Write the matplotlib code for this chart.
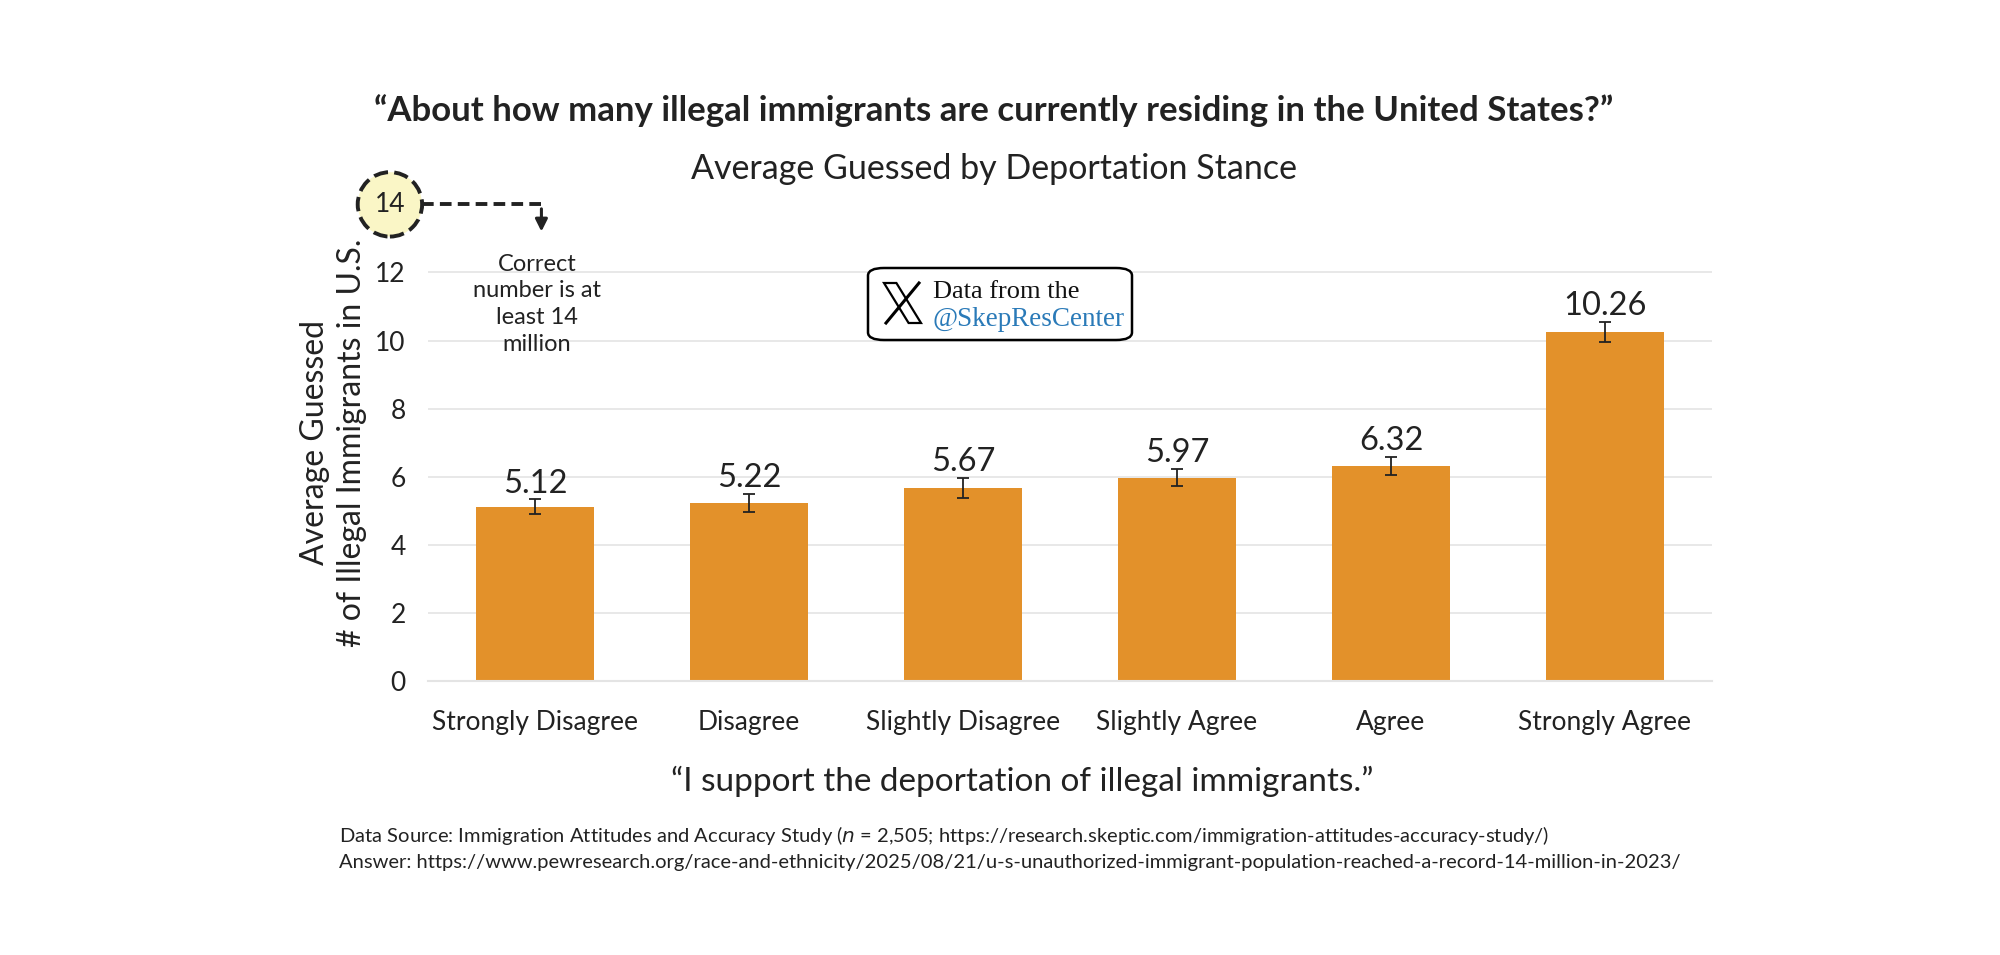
import numpy as np
import matplotlib
matplotlib.use('Agg')
import matplotlib.pyplot as plt
from matplotlib.patches import FancyBboxPatch, Polygon
from matplotlib.lines import Line2D


### DATA ###

categories = ['Strongly Disagree', 'Disagree', 'Slightly Disagree',
              'Slightly Agree', 'Agree', 'Strongly Agree']
avg_guess = [5.12, 5.22, 5.67, 5.97, 6.32, 10.26]
err = [0.21, 0.27, 0.29, 0.25, 0.27, 0.29]
y_ticks = [0, 2, 4, 6, 8, 10, 12]
correct_number = 14

### STYLE ###

bar_color = '#E3912A'
text_color = '#222222'
serif = ['Liberation Serif', 'DejaVu Serif']
plt.rcParams['font.family'] = ['Lato', 'DejaVu Sans']

fig = plt.figure(figsize=(20, 9.55), dpi=100)
ax = fig.add_axes([0.214, 0.287, 0.642, 0.499])

x = np.arange(len(categories))
ax.bar(x, avg_guess, width=0.55, color=bar_color, zorder=2)
ax.errorbar(x, avg_guess, yerr=err, fmt='none', ecolor='#222222',
            elinewidth=1.3, capsize=4, capthick=1.3, zorder=3)
for xi, v, e in zip(x, avg_guess, err):
    ax.text(xi, v + e + 0.2, '{:.2f}'.format(v), ha='center', va='baseline',
            fontsize=23.5, color=text_color)

ax.set_xlim(-0.5, 5.5)
ax.set_ylim(0, correct_number)
ax.set_yticks(y_ticks)
ax.set_xticks(x)
ax.set_xticklabels(categories)
ax.tick_params(axis='both', length=0, labelsize=19, colors=text_color)
ax.tick_params(axis='x', pad=21)
ax.tick_params(axis='y', pad=16)
ax.grid(axis='y', color='#e4e4e4', lw=1.2, zorder=0)
for s in ['top', 'right', 'left']:
    ax.spines[s].set_visible(False)
ax.spines['bottom'].set_color('#e4e4e4')
ax.spines['bottom'].set_linewidth(1.5)
ax.set_axisbelow(True)

ax.set_ylabel('Average Guessed\n# of Illegal Immigrants in U.S.', fontsize=23,
              color=text_color, linespacing=1.3, labelpad=6)

# correct-number marker
ax.plot([-0.53, 0.03], [correct_number, correct_number], ls=(0, (3, 1.6)),
        color='#222222', lw=2.8, clip_on=False, zorder=4)
ax.scatter([-0.678], [correct_number], s=2150, facecolor='#FAF6C6',
           edgecolor='#222222', linewidths=2.8, linestyles='--',
           clip_on=False, zorder=5)
ax.text(-0.678, correct_number, str(correct_number), ha='center', va='center',
        fontsize=19, color=text_color, zorder=6)
ax.annotate('', xy=(0.03, 13.12), xytext=(0.03, correct_number - 0.05),
            arrowprops=dict(arrowstyle='-|>', color='#222222', lw=2.2,
                            mutation_scale=18), annotation_clip=False)
ax.text(0.01, 12.55, 'Correct\nnumber is at\nleast 14\nmillion', ha='center',
        va='top', fontsize=17, color=text_color, linespacing=1.33)

# titles
fig.text(0.497, 0.884, '\u201cAbout how many illegal immigrants are currently residing in the United States?\u201d',
         ha='center', va='center', fontsize=25, fontweight='bold', color=text_color)
fig.text(0.497, 0.823, 'Average Guessed by Deportation Stance', ha='center',
         va='center', fontsize=24.5, color=text_color)
fig.text(0.511, 0.182, '\u201cI support the deportation of illegal immigrants.\u201d',
         ha='center', va='center', fontsize=24, color=text_color)

# source box
box = FancyBboxPatch((868 / 2000, 1 - 340 / 955), 264 / 2000, 72 / 955,
                     boxstyle='round,pad=0,rounding_size=0.008',
                     transform=fig.transFigure, facecolor='white',
                     edgecolor='black', lw=1.8, zorder=10)
fig.add_artist(box)
# X logo
lx0, lx1 = 884 / 2000, 921 / 2000
ly0, ly1 = 1 - 323 / 955, 1 - 283 / 955
thick = Polygon([(lx0, ly1), (lx0 + 0.0062, ly1), (lx1, ly0), (lx1 - 0.0062, ly0)],
                closed=True, transform=fig.transFigure, facecolor='white',
                edgecolor='black', lw=1.6, zorder=11)
fig.add_artist(thick)
fig.add_artist(Line2D([lx1 - 0.001, lx0 + 0.001], [ly1, ly0], transform=fig.transFigure,
                      color='black', lw=2.2, zorder=11))
fig.text(933 / 2000, 1 - 298 / 955, 'Data from the', fontsize=19,
         family=serif, color='#111111', va='baseline', zorder=12)
fig.text(933 / 2000, 1 - 326 / 955, '@SkepResCenter', fontsize=19.5,
         family=serif, color='#2A7AB8', va='baseline', zorder=12)

# footer
fig.text(339 / 2000, 1 - 835 / 955,
         'Data Source: Immigration Attitudes and Accuracy Study ($n$ = 2,505; https://research.skeptic.com/immigration-attitudes-accuracy-study/)',
         ha='left', va='center', fontsize=14.5, color=text_color)
fig.text(339 / 2000, 1 - 862 / 955,
         'Answer: https://www.pewresearch.org/race-and-ethnicity/2025/08/21/u-s-unauthorized-immigrant-population-reached-a-record-14-million-in-2023/',
         ha='left', va='center', fontsize=14.5, color=text_color)

fig.savefig('out.png', dpi=100, facecolor='white')
